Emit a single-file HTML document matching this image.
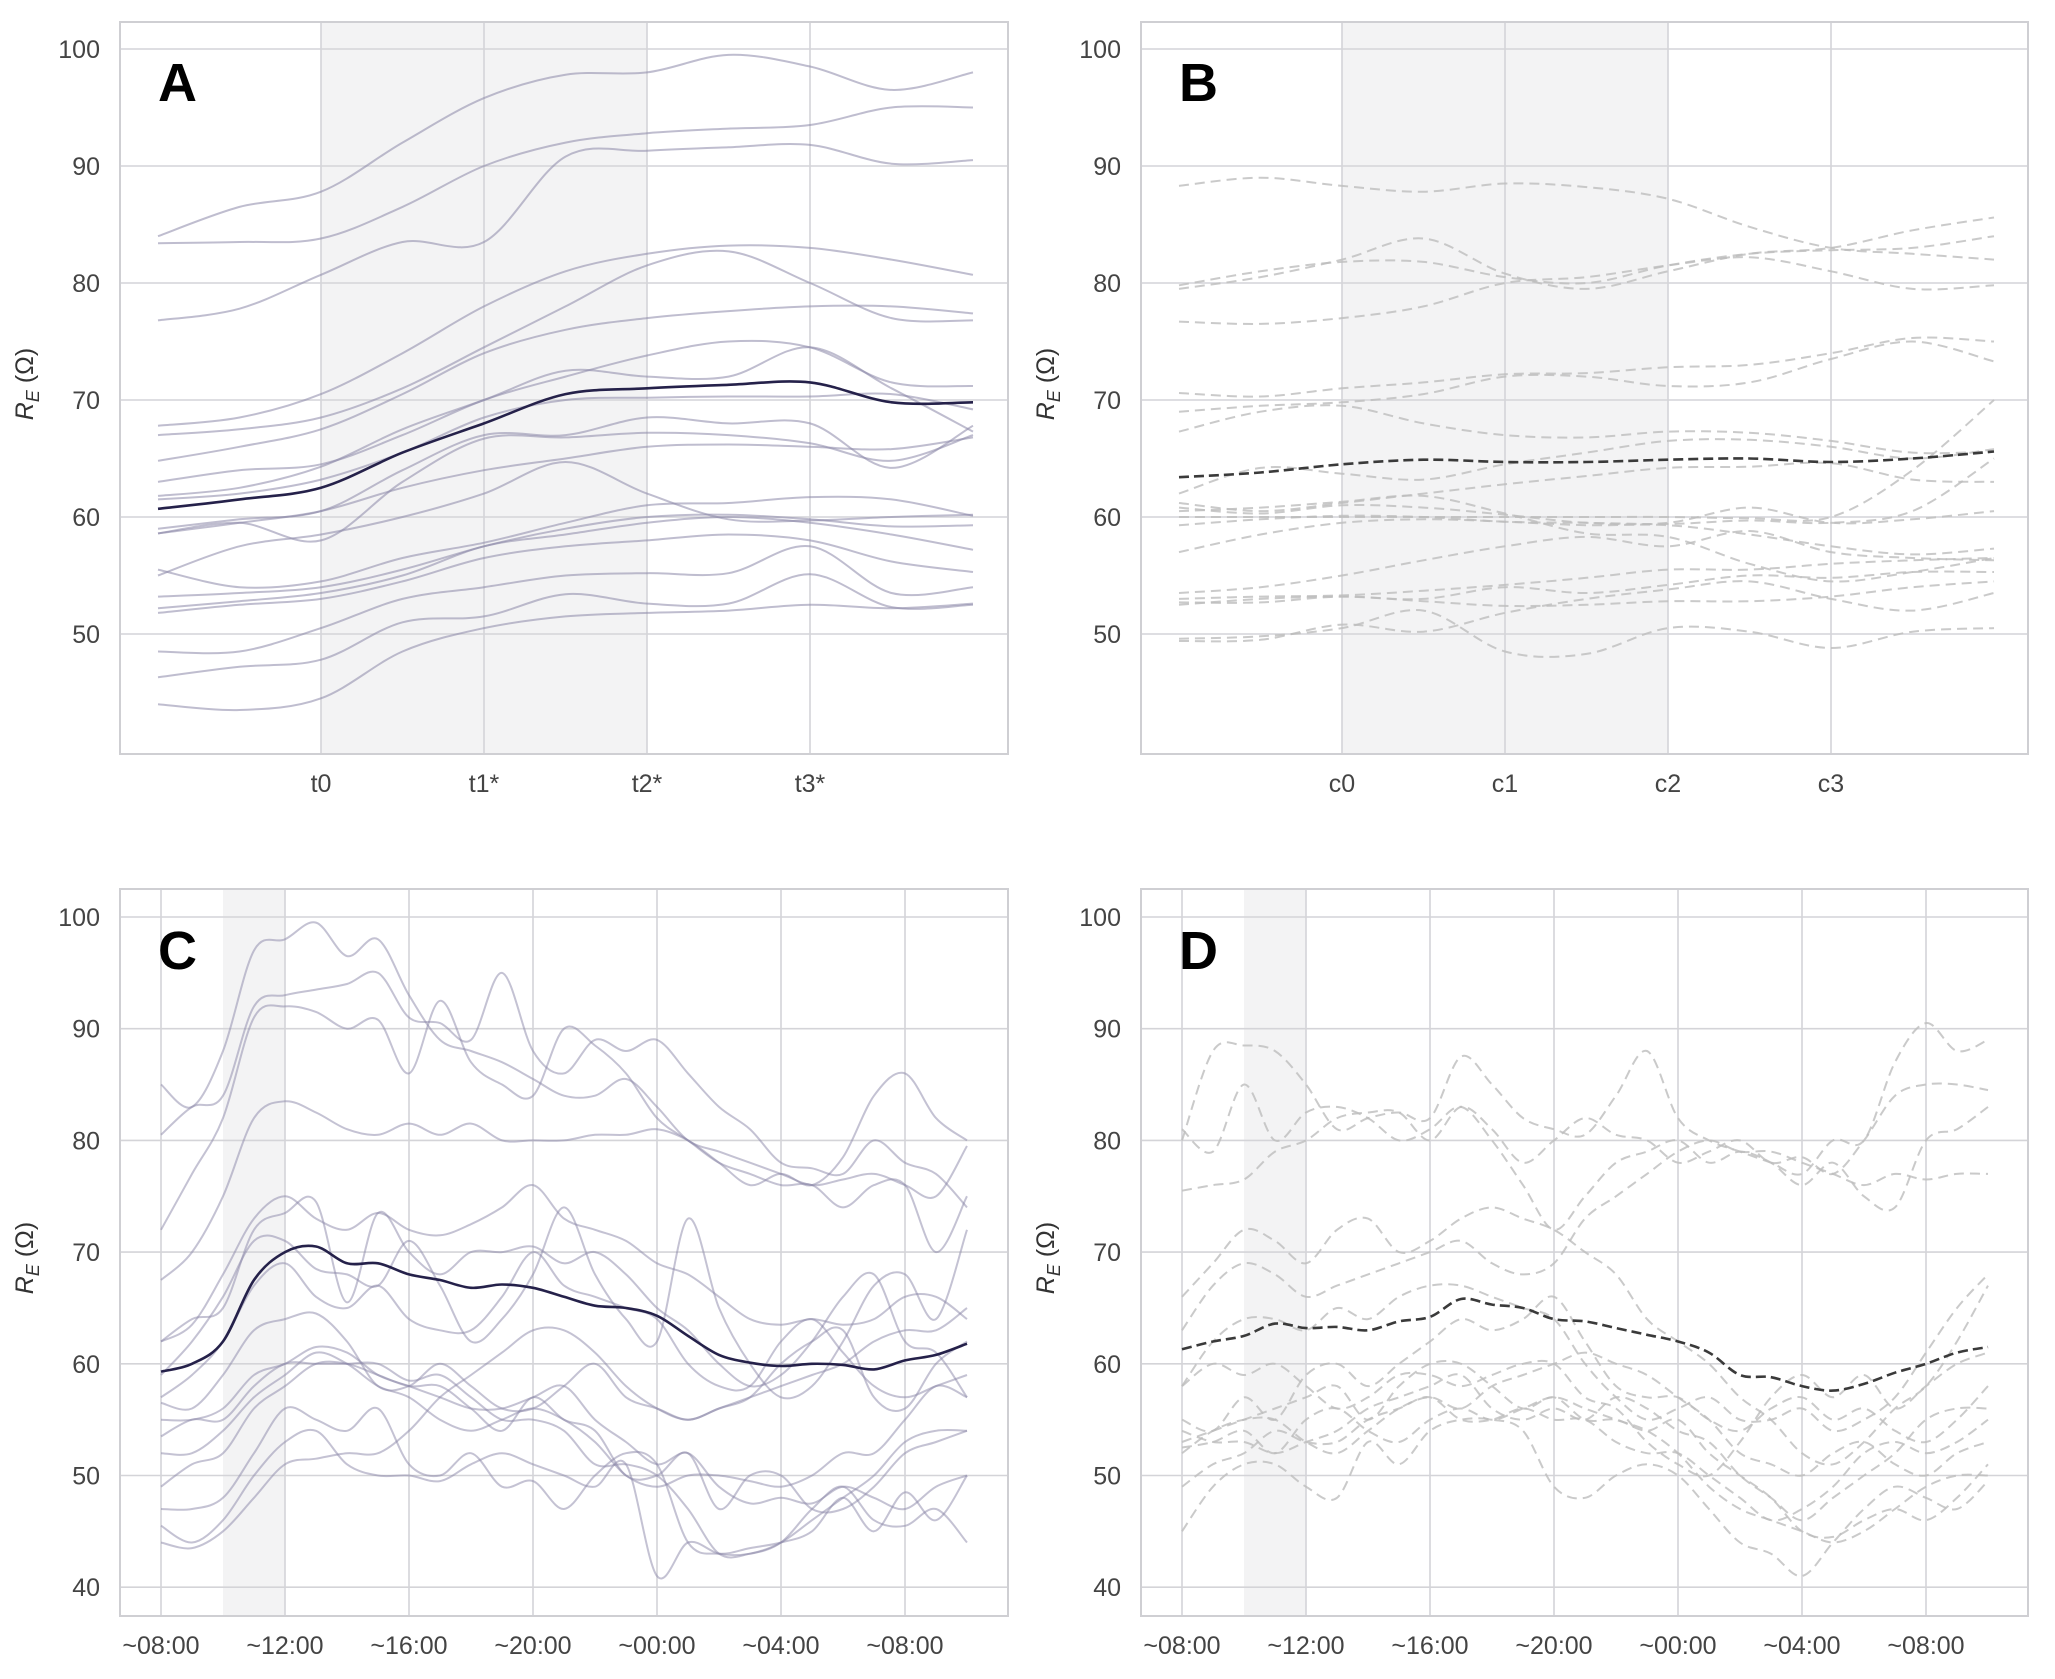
<!DOCTYPE html>
<html><head><meta charset="utf-8"><style>
html,body{margin:0;padding:0;background:#fff;}
svg{display:block;font-family:"Liberation Sans",sans-serif;}
</style></head><body>
<svg id="fig" width="2055" height="1679" viewBox="0 0 2055 1679" xmlns="http://www.w3.org/2000/svg"></svg>
<script>
// ---------- DATA ----------
const stageX = [-1,-0.5,0,0.5,1,1.5,2,2.5,3,3.5,4];
const stageTicks = ["t0","t1*","t2*","t3*"];
const condTicks = ["c0","c1","c2","c3"];
const yTicksTop = [50,60,70,80,90,100];
const yTicksBottom = [40,50,60,70,80,90,100];
const timeTicks = ["~08:00","~12:00","~16:00","~20:00","~00:00","~04:00","~08:00"];
const hours = [0,1,2,3,4,5,6,7,8,9,10,11,12,13,14,15,16,17,18,19,20,21,22,23,24,25,26];

const seriesA = [
[84,86.5,87.8,92,95.8,97.8,98,99.5,98.5,96.5,98],
[83.4,83.5,83.8,86.5,90,92,92.8,93.2,93.5,95,95],
[76.8,77.8,80.7,83.5,83.5,90.8,91.3,91.6,91.8,90.2,90.5],
[67.8,68.5,70.5,74,78,81,82.5,83.2,83,82,80.7],
[67,67.5,68.5,71,74.5,78,81.5,82.7,80,77,76.8],
[64.8,66,67.5,70.5,74,76,77,77.6,78,78,77.4],
[63,64,64.5,67,70,72,73.8,75,74.5,71.5,71.2],
[61.8,62.5,64.3,67.5,70,72.5,72,72,74.5,71,67.3],
[61.5,62,63.2,65.5,68.5,70,70.2,70.3,70.3,70.5,69.2],
[59,59.8,60.5,64,67,67,68.5,68,68,64.2,67.8],
[58.6,59.5,58,63,66.7,66.8,67.2,67,66.3,64.8,67],
[58.6,59.5,60.5,62.5,64,65,66,66.2,66,65.8,66.8],
[55,57.5,58.5,60,62,64.7,62,59.8,59.7,60,60.2],
[55.5,54,54.5,56.5,57.8,59.5,61,61.2,61.7,61.5,60.1],
[53.2,53.5,54,55.5,57.5,59,60,60.2,59.8,59.2,59.3],
[52.2,52.8,53.5,55,57.5,58.5,59.5,60,59.5,58.5,57.2],
[51.8,52.5,53,54.5,56.5,57.5,58,58.5,58,56.2,55.3],
[48.5,48.5,50.5,53,54,55,55.2,55.2,57.5,53.5,54],
[46.3,47.2,47.8,51,51.5,53.4,52.6,52.6,55.1,52.3,52.5],
[44,43.5,44.5,48.5,50.5,51.5,51.8,52,52.5,52.2,52.6]
];
const meanA = [60.7,61.5,62.5,65.5,68,70.5,71,71.3,71.5,69.8,69.8];

const seriesB = [
[88.3,89,88.3,87.8,88.5,88.2,87.2,84.8,83,82.5,82],
[79.5,80.5,82,83.8,80.8,79.5,81,82.5,83,84.5,85.6],
[79.8,81,81.8,81.8,80.5,80,81.5,82.5,82.8,83,84],
[76.7,76.5,77,78,80,80.5,81.5,82.2,81,79.5,79.8],
[70.6,70.3,71,71.5,72.2,72.3,72.8,73,74,75.3,75],
[69,69.5,69.8,70.5,72,72,71.2,71.5,73.5,75,73.3],
[67.3,69,69.5,68,67,66.8,67.3,67.2,66.5,65.5,65.6],
[62,64.2,63.7,63.2,64.5,65.5,66.5,66.6,66,65,65.8],
[61.2,60.5,61.2,62,62.8,63.5,64.2,64.3,64.6,63.2,63],
[60,60,60,60,60,60,60,59.9,60,64,70],
[60.8,60.3,61,60.8,60.2,59.5,59.5,60.8,59.5,59.8,60.5],
[59.3,59.8,60.1,60,59.6,59.5,59.4,59.7,59.5,60.5,65],
[57,58.5,59.5,59.8,59.6,59.3,59.3,58.5,57.5,56.8,57.3],
[60.5,60.8,61.3,61.8,60.3,58.6,58.3,56,54.5,55.3,56.5],
[53.5,54,55,56.3,57.5,58.3,57.5,58.8,57,56.5,56.3],
[53,53.2,53.3,53.7,54.2,54.8,55.5,55.5,56,56.3,56.5],
[52.5,53,53.2,53,54,53.5,54.2,55,54.8,55.3,55.3],
[52.7,52.7,53.2,52.8,52.4,52.5,52.8,52.8,53.2,54,54.5],
[49.6,49.8,50.5,52,48.5,48.3,50.5,50.2,48.8,50.2,50.5],
[49.4,49.5,50.8,50.2,51.8,53,53.8,54.5,53,52,53.5]
];
const meanB = [63.4,63.8,64.5,64.9,64.7,64.7,64.9,65,64.7,65,65.6];

const seriesC = [
[85,83,88,97,98,99.5,96.5,98,93,89,88,87,85.5,84,84,85.5,83,80,79,78,77,76,76.5,77,76,75,79.5],
[80.5,83,84,92,93,93.5,94,95,91,90.5,89,95,88,86,89,88,89,86,83,81,78,77.5,77,80,78,77,74],
[72,77,82,91,92,91.5,90,90.8,86,92.5,87,85,84,90,88.5,86,82,80,78,77,76,76,74,76,76,70,75],
[67.5,70,75,82,83.5,82.5,81,80.5,81.5,80.5,81.5,80,80,80,80.5,80.5,81,80,78,76,77,76,78.5,84,86,82,80],
[62,63.5,68,73,75,73,72,73.5,72,71.5,72.5,74,76,73,72,71,69,68,66,64,63.5,64,63.5,64,66,66,64],
[62,64,65,72,73.5,74.5,65.5,73.5,70,68,70,70,70.5,69,70,68,65,63,60,58,59,62,66,68,62,61,57],
[59,62,66,71,71,68.5,68,67,71,67,62,64,68,74,68,64,62,73,65,60,57,58,62,67,68,64,72],
[57,59,62,67,69,66,65,67,64,63,63,66,70,67,66,65,64,60,58,58,62,64,61,58,57,58,59],
[56.5,56,59,63,64,64.5,62,58,58,60,58,56,56,58,60,57,56,55,56,57,60,62,63,57,56,60,62],
[55,55,56,59,60,61.5,61,59,58,57,56,56,57,58,55,53,51,52,49,47.5,48,47.5,49,48,47,49,50],
[53.5,55,55,58,60,60,60,60,58.5,59,57,55,55,54,51,51,50,47,43,43,44,47,49,46,45.5,47,44],
[52,52,54,57,59,61,60,58,57,55,54,55,56,55,53,50,49,50,50,49.5,49,50,52,52,55,58,57],
[49,51,52,56,58,60,60,59,58,58,56,54,57,55,54,50,50,52,47,50,50,47,47,49,52,53,54],
[47,47,48,52,56,55,54,56,51,50,52,49,49.5,47,50,52,51,44,43,43.5,44,45,48,45,48.5,46,50],
[45.5,44,46,50,53,54,51,50,50,49.5,51,52,51,50,49,51,41,44,43,43,44,46,48,50,53,54,54],
[44,43.5,45,48,51,51.5,52,52,54,57,59,61,63,63,61,58,56,55,56,57,58,59,60,62,63,63,65]
];
const meanC = [59.3,60,62,67.5,70,70.5,69,69,68,67.5,66.8,67.1,66.8,66,65.2,65,64.3,62.5,60.8,60.1,59.8,60,59.9,59.5,60.3,60.8,61.8];

const seriesD = [
[80,88,88.5,88,85,81,82,82.5,82,87.5,85,82,81,80.5,84,88,82,80,79,78,77,80,80,87,90.5,88,89],
[75.5,76,76.5,79,80,82,82.5,82.5,80,83,81,78,80,82,80.5,80,78,79,80,78,78.5,77,80,84,85,85,84.5],
[81,79,85,80,82.5,83,82,80,81,83,80,76,72,75,78,79,80,78,79,78,76,78,75,74,80,81,83],
[66,69,72,71,69,72,73,70,71,73,74,73,72,70,68,64,62,60,57,55,52,51,53,56,58,62,67],
[63,67,69,68,66,67,68,69,70,71,69,68,69,73,75,77,79,80,79,79,78,77,76,77,76.5,77,77],
[58,62,64,64,63,65,64,66,67,67,66,65,64,60,57,55,56,57,55,55,56,54,55,57,61,65,68],
[55,54,57,55,59,60,58,60,62,64,63,64,66,62,58,57,57,55,54,56,57,55,56,54,53,55,58],
[53,54,55,56,57,58,55,58,60,60,58,56,57,55,55,54,55,52,50,48,45,44.5,46,47,46,48,51],
[52.5,53,54,52,55,56,54,53,55,56,55,56,57,56,55,54,52,49,47,46,45,44,45,47,49,50,50],
[54,53,53,52,53,54,56,57,58,59,56,55,56,55,57,56,54,53,50,48,46,48,50,52,55,56,56],
[45,49,51,51,49,48,53,51,54,55,55,54,49,48,50,51,50,47,44,43,41,44,47,49,48,47,49.5],
[49,51,52,54,53,53,55,56,57,55,55,56,55,55,53,52,52,50,48,46,47,49,52,53,52,53,55],
[58,60,59,60,58,56,57,59,59,58,59,60,60,57,56,53,51,50,53,57,59,57,59,56,58,60,61],
[52,54,55,55,53,52,54,56,57,56,58,59,60,61,60,59,57,55,52,51,50,52,53,51,50,52,53]
];
const meanD = [61.3,62,62.5,63.6,63.2,63.3,63,63.8,64.2,65.8,65.3,65,64,63.8,63.2,62.6,62,61,59,58.8,58,57.6,58.2,59.2,60,61,61.5];

// ---------- DRAWING ----------
const NS = "http://www.w3.org/2000/svg";
const svg = document.getElementById("fig");
function el(tag, attrs, parent){
  const e = document.createElementNS(NS, tag);
  for (const k in attrs) e.setAttribute(k, attrs[k]);
  (parent||svg).appendChild(e);
  return e;
}
function smoothPath(pts){
  let d = "M" + pts[0][0].toFixed(1) + "," + pts[0][1].toFixed(1);
  for (let i=0;i<pts.length-1;i++){
    const p0 = pts[Math.max(0,i-1)], p1 = pts[i], p2 = pts[i+1], p3 = pts[Math.min(pts.length-1,i+2)];
    const c1x = p1[0]+(p2[0]-p0[0])/6, c1y = p1[1]+(p2[1]-p0[1])/6;
    const c2x = p2[0]-(p3[0]-p1[0])/6, c2y = p2[1]-(p3[1]-p1[1])/6;
    d += " C"+c1x.toFixed(1)+","+c1y.toFixed(1)+" "+c2x.toFixed(1)+","+c2y.toFixed(1)+" "+p2[0].toFixed(1)+","+p2[1].toFixed(1);
  }
  return d;
}

function panel(cfg){
  const g = el("g", {});
  
  
  const xs = cfg.xs, ys = cfg.ys;
  // shade
  const sh = el("rect", {x: xs(cfg.shade[0]), y: cfg.top, width: xs(cfg.shade[1])-xs(cfg.shade[0]), height: cfg.bottom-cfg.top, fill:"#f3f3f4"}, g);
  
  
  // grid
  cfg.yTicks.forEach(v=>{
    const ln = el("line", {x1:cfg.left, x2:cfg.right, y1:ys(v), y2:ys(v), stroke:"#d4d4d8", "stroke-width":1.6}, g);
    
    
    const t = el("text", {x: cfg.left-20, y: ys(v)+9, "text-anchor":"end", "font-size":25, fill:"#444"}, g);
    t.textContent = v;
    
    
  });
  cfg.xTicks.forEach((lab,i)=>{
    const xv = cfg.xTickVals[i];
    const ln = el("line", {x1:xs(xv), x2:xs(xv), y1:cfg.top, y2:cfg.bottom, stroke:"#d4d4d8", "stroke-width":1.6}, g);
    
    
    const t = el("text", {x: xs(xv), y: cfg.bottom+38, "text-anchor":"middle", "font-size":25, fill:"#444"}, g);
    t.textContent = lab;
    
    
  });
  // series
  cfg.series.forEach(s=>{
    const p = el("path", {d: smoothPath(s.map((v,i)=>[xs(cfg.x[i]), ys(v)])), fill:"none", stroke:cfg.color, "stroke-width":2, "stroke-opacity":cfg.opacity, "stroke-dasharray":cfg.dash}, g);
    
    
  });
  const m = el("path", {d: smoothPath(cfg.mean.map((v,i)=>[xs(cfg.x[i]), ys(v)])), fill:"none", stroke:cfg.meanColor, "stroke-width":2.6, "stroke-dasharray":cfg.meanDash}, g);
  
  
  // frame
  const fr = el("rect", {x:cfg.left, y:cfg.top, width:cfg.right-cfg.left, height:cfg.bottom-cfg.top, fill:"none", stroke:"#cfcfd3", "stroke-width":2}, g);
  
  
  // letter
  const L = el("text", {x: cfg.left+38, y: cfg.letterY, "font-size":54, "font-weight":"bold", fill:"#000"}, g);
  L.textContent = cfg.letter;
  
  
  // y label
  const yl = el("text", {transform:"translate("+(cfg.left-87)+","+cfg.labelY+") rotate(-90)", "text-anchor":"middle", "font-size":25, fill:"#333"}, g);
  
  
  const t1 = el("tspan", {"font-style":"italic"}, yl); t1.textContent = "R";
  const t2 = el("tspan", {"font-style":"italic", "font-size":18, dy:6}, yl); t2.textContent = "E";
  const t3 = el("tspan", {dy:-6}, yl); t3.textContent = " (Ω)";
}

// top row scales
const topY = v => 49 + (100 - v) * 11.7;
const botY = v => 917 + (100 - v) * 11.17;
const axA = v => 321 + v * 163;
const axB = v => 1342 + v * 163;
const axC = h => 161 + h * 31;
const axD = h => 1182 + h * 31;

panel({name:"panel-a", letter:"A", left:120, right:1008, top:22, bottom:754, xs:axA, ys:topY, x:stageX,
  yTicks:yTicksTop, xTicks:stageTicks, xTickVals:[0,1,2,3], shade:[0,2], series:seriesA, mean:meanA,
  color:"#8a86a8", opacity:0.55, dash:"none", meanColor:"#25214a", meanDash:"none", letterY:101, labelY:384});
panel({name:"panel-b", letter:"B", left:1141, right:2028, top:22, bottom:754, xs:axB, ys:topY, x:stageX,
  yTicks:yTicksTop, xTicks:condTicks, xTickVals:[0,1,2,3], shade:[0,2], series:seriesB, mean:meanB,
  color:"#bdbdbd", opacity:0.8, dash:"10,6", meanColor:"#3a3a3a", meanDash:"10,5", letterY:101, labelY:384});
panel({name:"panel-c", letter:"C", left:120, right:1008, top:889, bottom:1616, xs:axC, ys:botY, x:hours,
  yTicks:yTicksBottom, xTicks:timeTicks, xTickVals:[0,4,8,12,16,20,24], shade:[2,4], series:seriesC, mean:meanC,
  color:"#8a86a8", opacity:0.5, dash:"none", meanColor:"#25214a", meanDash:"none", letterY:969, labelY:1258});
panel({name:"panel-d", letter:"D", left:1141, right:2028, top:889, bottom:1616, xs:axD, ys:botY, x:hours,
  yTicks:yTicksBottom, xTicks:timeTicks, xTickVals:[0,4,8,12,16,20,24], shade:[2,4], series:seriesD, mean:meanD,
  color:"#bdbdbd", opacity:0.8, dash:"10,6", meanColor:"#3a3a3a", meanDash:"10,5", letterY:969, labelY:1258});
</script>
</body></html>
